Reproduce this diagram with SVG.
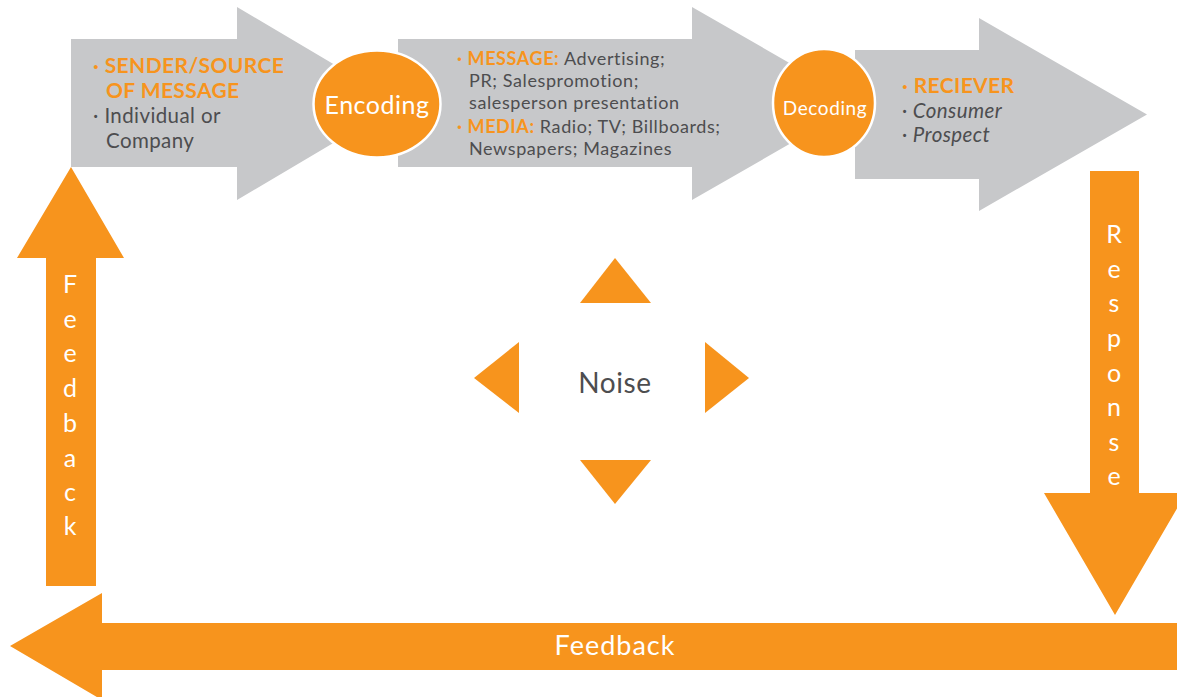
<svg xmlns="http://www.w3.org/2000/svg" width="1177" height="697" viewBox="0 0 1177 697">
<style>
.grey{fill:#C7C8CA}
.or{fill:#F7941D}
.t{font-family:Lato,"Open Sans","Liberation Sans",sans-serif}
.dk{fill:#4D4D4F}
.ot{fill:#F7941D;font-weight:bold}
.wt{fill:#FFFFFF}
.circ{fill:#F7941D;stroke:#FFFFFF;stroke-width:2.5}
</style>
<rect width="1177" height="697" fill="#FFFFFF"/>
<g id="sender">
<polygon class="grey" points="71,39 237,39 237,7 400,103.5 237,200 237,167 71,167"/>
<text class="t ot" font-size="21" letter-spacing="0.4" x="93" y="73">· SENDER/SOURCE</text>
<text class="t ot" font-size="21" letter-spacing="0.4" x="106" y="98">OF MESSAGE</text>
<text class="t dk" font-size="20.5" letter-spacing="0.4" x="93" y="123">· Individual or</text>
<text class="t dk" font-size="20.5" letter-spacing="0.4" x="106" y="148">Company</text>
</g>
<g id="message">
<polygon class="grey" points="398,39 692,39 692,7 860,103.5 692,200 692,167 398,167"/>
<text class="t" font-size="18" letter-spacing="0.6" x="457" y="65"><tspan class="ot">· MESSAGE:</tspan><tspan class="dk"> Advertising;</tspan></text>
<text class="t dk" font-size="18" letter-spacing="0.6" x="469" y="87">PR; Salespromotion;</text>
<text class="t dk" font-size="18" letter-spacing="0.6" x="469" y="109">salesperson presentation</text>
<text class="t" font-size="18" letter-spacing="0.6" x="457" y="133"><tspan class="ot">· MEDIA:</tspan><tspan class="dk"> Radio; TV; Billboards;</tspan></text>
<text class="t dk" font-size="18" letter-spacing="0.6" x="469" y="155">Newspapers; Magazines</text>
</g>
<g id="receiver">
<polygon class="grey" points="855,50 979,50 979,18 1147,114.5 979,211 979,179 855,179"/>
<text class="t ot" font-size="21" letter-spacing="0.4" x="902" y="93">· RECIEVER</text>
<text class="t dk" font-size="20.5" letter-spacing="0.4" font-style="italic" x="902" y="118">· Consumer</text>
<text class="t dk" font-size="20.5" letter-spacing="0.4" font-style="italic" x="902" y="142">· Prospect</text>
</g>
<g id="encoding">
<ellipse class="circ" cx="377" cy="104" rx="63.5" ry="53.5"/>
<text class="t wt" font-size="25" letter-spacing="0.5" x="377" y="114" text-anchor="middle">Encoding</text>
</g>
<g id="decoding">
<ellipse class="circ" cx="824" cy="103" rx="51" ry="54"/>
<text class="t wt" font-size="19" letter-spacing="0.6" x="825" y="115" text-anchor="middle">Decoding</text>
</g>
<g id="noise">
<polygon class="or" points="615,258 651,303 580,303"/>
<polygon class="or" points="474,378 519,342 519,413"/>
<polygon class="or" points="749,378 705,342 705,413"/>
<polygon class="or" points="580,460 651,460 615,504"/>
<text class="t dk" font-size="28" letter-spacing="0.6" x="615" y="393" text-anchor="middle">Noise</text>
</g>
<g id="connectors">
<g id="feedback-up">
<polygon class="or" points="71,167 124,258 96,258 96,586 46,586 46,258 17,258"/>
<text class="t wt" font-size="25" text-anchor="middle">
<tspan x="70" y="293">F</tspan><tspan x="70" y="328">e</tspan><tspan x="70" y="362">e</tspan><tspan x="70" y="397">d</tspan><tspan x="70" y="432">b</tspan><tspan x="70" y="467">a</tspan><tspan x="70" y="501">c</tspan><tspan x="70" y="535">k</tspan>
</text>
</g>
<g id="response">
<polygon class="or" points="1090,171 1139,171 1139,493 1186,493 1115,615 1044,493 1090,493"/>
<text class="t wt" font-size="25" text-anchor="middle">
<tspan x="1114" y="243">R</tspan><tspan x="1114" y="278">e</tspan><tspan x="1114" y="312">s</tspan><tspan x="1114" y="347">p</tspan><tspan x="1114" y="382">o</tspan><tspan x="1114" y="416">n</tspan><tspan x="1114" y="451">s</tspan><tspan x="1114" y="485">e</tspan>
</text>
</g>
<g id="feedback-bottom">
<polygon class="or" points="10,646 102,593 102,623 1177,623 1177,670 102,670 102,700"/>
<text class="t wt" font-size="27" letter-spacing="1" x="615" y="655" text-anchor="middle">Feedback</text>
</g>
</g>
</svg>
